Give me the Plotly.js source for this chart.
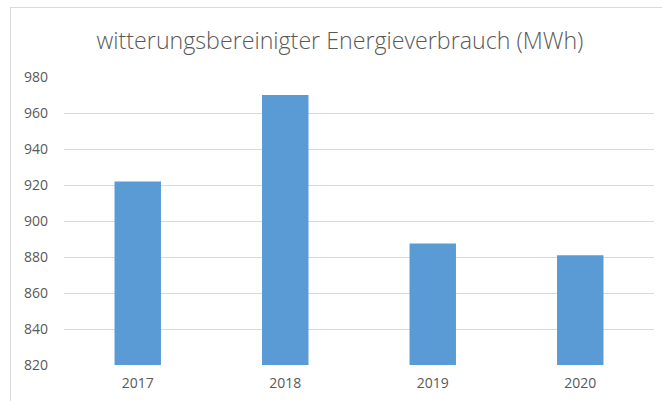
<!DOCTYPE html>
<html>
<head>
<meta charset="utf-8">
<script src="https://cdn.plot.ly/plotly-3.0.1.min.js"></script>
<style>
  html, body { margin: 0; padding: 0; background: #ffffff; }
  #wrap { position: relative; width: 662px; height: 401px; overflow: hidden; }
  #frame { position: absolute; left: 10px; top: 7px; width: 700px; height: 450px; border: 1px solid #d9d9d9; box-sizing: border-box; }
  #chart { position: absolute; left: 0; top: 0; width: 662px; height: 401px; }
</style>
</head>
<body>
<div id="wrap">
  <div id="frame"></div>
  <div id="chart"></div>
</div>
<script>
const categories = ["2017", "2018", "2019", "2020"];
const values = [922, 970, 887.5, 881];
const yTicks = [820, 840, 860, 880, 900, 920, 940, 960, 980];
const chartTitle = "witterungsbereinigter Energieverbrauch (MWh)";

const trace = {
  type: "bar",
  x: categories,
  y: values,
  marker: { color: "#5B9BD5" },
  hoverinfo: "x+y"
};

const layout = {
  width: 662,
  height: 401,
  margin: { l: 64, r: 8, t: 77, b: 36 },
  paper_bgcolor: "rgba(0,0,0,0)",
  plot_bgcolor: "rgba(0,0,0,0)",
  bargap: 0.685,
  showlegend: false,
  title: {
    text: chartTitle,
    x: 0.5136,
    xanchor: "center",
    y: 0.897,
    yanchor: "middle",
    font: { family: "Open Sans, sans-serif", size: 23.2, color: "#595959", weight: 300 }
  },
  font: { family: "Open Sans, sans-serif", size: 14, color: "#595959" },
  xaxis: {
    type: "category",
    showgrid: false,
    showline: false,
    ticks: "",
    ticklabelstandoff: 8,
    tickfont: { size: 14, color: "#595959" }
  },
  yaxis: {
    range: [820, 980],
    tickvals: yTicks,
    ticktext: yTicks.map(String),
    showgrid: true,
    gridcolor: "#d9d9d9",
    gridwidth: 1,
    zeroline: false,
    showline: false,
    ticks: "",
    ticklabelstandoff: 15,
    tickfont: { size: 14, color: "#595959" }
  }
};

Plotly.newPlot("chart", [trace], layout, { displayModeBar: false, staticPlot: true });
</script>
</body>
</html>
